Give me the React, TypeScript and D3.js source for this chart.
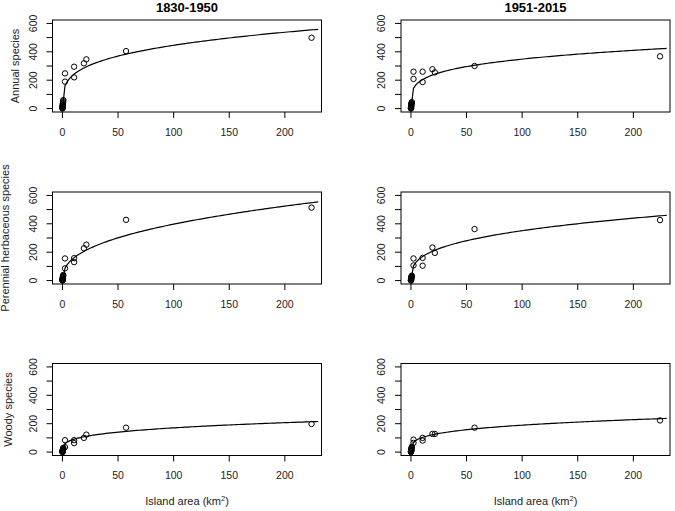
import React from 'react';
import * as d3 from 'd3';

const width = 675;
const height = 511;

const periods = ['1830-1950', '1951-2015'];
const groups = ['Annual species', 'Perennial herbaceous species', 'Woody species'];

// island area in km2 (same islands in every panel)
const areas = [
  0.02, 0.05, 0.08, 0.1, 0.15, 0.2, 0.25, 0.3, 0.4, 0.5, 0.6, 0.8,
  2.3, 2.3, 10.5, 10.5, 19.3, 21.5, 57.2, 224,
];

// species counts per island
const annualEarly = [0, 3, 6, 10, 14, 18, 24, 30, 36, 44, 52, 60, 190, 248, 295, 220, 319, 347, 405, 499];
const annualLate = [0, 2, 5, 8, 12, 16, 20, 25, 30, 35, 40, 46, 260, 209, 260, 187, 277, 255, 300, 368];
const perennialEarly = [0, 2, 4, 6, 9, 12, 15, 19, 24, 29, 34, 40, 86, 156, 158, 130, 228, 253, 428, 514];
const perennialLate = [0, 2, 4, 6, 9, 12, 15, 18, 22, 26, 30, 35, 156, 107, 160, 105, 233, 195, 363, 426];
const woodyEarly = [0, 1, 2, 4, 6, 8, 10, 13, 16, 20, 25, 30, 84, 35, 84, 63, 100, 123, 172, 198];
const woodyLate = [0, 1, 3, 5, 7, 10, 13, 16, 20, 25, 30, 38, 88, 65, 100, 81, 128, 128, 172, 223];

// fitted power curves S = c * A^z  [row][col]
const fitC = [[128.6, 117.5], [63, 79.4], [47, 55.2]];
const fitZ = [[0.27, 0.236], [0.4, 0.323], [0.28, 0.268]];

const yTicks = [0, 100, 200, 300, 400, 500, 600];
const yTickLabels = [0, 200, 400, 600];
const xTicks = [0, 50, 100, 150, 200];

const series = [
  [annualEarly, annualLate],
  [perennialEarly, perennialLate],
  [woodyEarly, woodyLate],
];

const colLeft = [52.5, 401];
const colW = 269;
const rowTop = [20, 192, 363.5];
const rowH = 92;
const ylabX = [15, 5, 8];
const font = '"Liberation Sans", Arial, Helvetica, sans-serif';

const [xmin, xmax] = d3.extent(areas) as [number, number];
const xpad = (xmax - xmin) * 0.04;
const curveX = d3.range(0, 101).map(i => (230 * i) / 100);

const Panel = ({ row, col }: { row: number; col: number }) => {
  const left = colLeft[col];
  const top = rowTop[row];
  const bottom = top + rowH;
  const x = d3.scaleLinear().domain([xmin - xpad, xmax + xpad]).range([left, left + colW]);
  const y = d3.scaleLinear().domain([-24, 624]).range([bottom, top]);
  const vals = series[row][col];
  const c = fitC[row][col];
  const z = fitZ[row][col];
  const line = d3.line<number>()
    .x(d => x(d))
    .y(d => y(c * Math.pow(d, z)));

  return (
    <g>
      <rect x={left} y={top} width={colW} height={rowH} fill="none" stroke="#000" strokeWidth={1} />
      {yTicks.map(t => (
        <line key={t} x1={left} x2={left - 6} y1={y(t)} y2={y(t)} stroke="#000" />
      ))}
      {yTickLabels.map(t => (
        <text key={t} transform={`translate(${left - 16},${y(t)}) rotate(-90)`} textAnchor="middle"
          fontSize={10.5} fill="#222">{t}</text>
      ))}
      {xTicks.map(t => (
        <g key={t}>
          <line x1={x(t)} x2={x(t)} y1={bottom} y2={bottom + 6} stroke="#000" />
          <text x={x(t)} y={bottom + 23.5} textAnchor="middle" fontSize={10.5} fill="#222">{t}</text>
        </g>
      ))}
      <path d={line(curveX) || ''} fill="none" stroke="#000" strokeWidth={1.2} />
      {areas.map((a, i) => (
        <circle key={i} cx={x(a)} cy={y(vals[i])} r={2.7} fill="none" stroke="#000" strokeWidth={1} />
      ))}
      {row === 0 && (
        <text x={left + colW / 2} y={11.5} textAnchor="middle" fontSize={13} fontWeight="bold">{periods[col]}</text>
      )}
      {col === 0 && (
        <text transform={`translate(${ylabX[row]},${top + rowH / 2}) rotate(-90)`} textAnchor="middle"
          dominantBaseline="central" fontSize={11} fill="#222">{groups[row]}</text>
      )}
      {row === 2 && (
        <text x={left + colW / 2} y={505} textAnchor="middle" fontSize={11} fill="#222">
          Island area (km<tspan fontSize={7.5} dy={-4}>2</tspan><tspan dy={4}>)</tspan>
        </text>
      )}
    </g>
  );
};

const App = () => {
  return (
    <div>
      <style>{`body { margin: 0; }`}</style>
      <svg width={width} height={height} style={{ display: 'block', background: '#fff', fontFamily: font }}>
        {[0, 1, 2].map(r => [0, 1].map(c => <Panel key={`${r}-${c}`} row={r} col={c} />))}
      </svg>
    </div>
  );
};

export default App;
